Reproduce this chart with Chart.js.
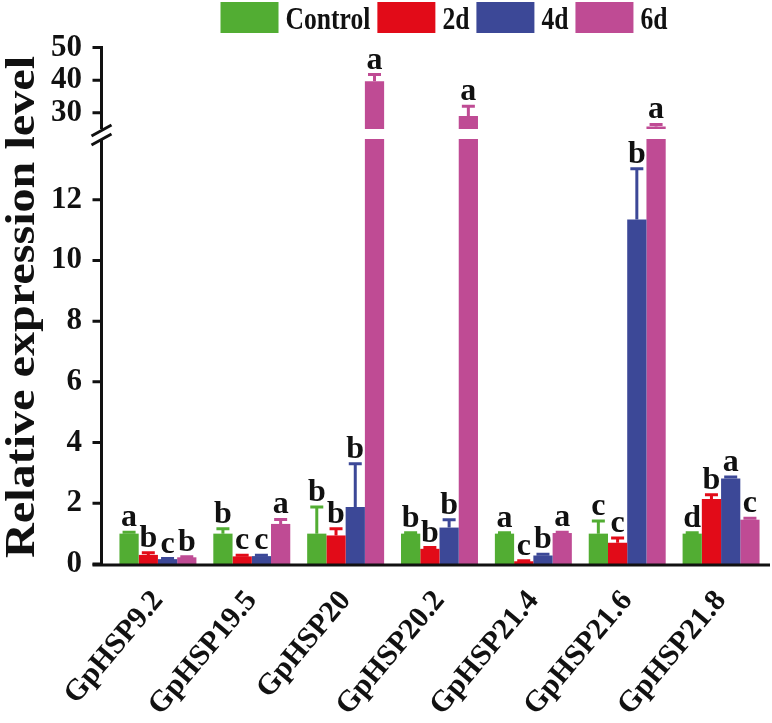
<!DOCTYPE html>
<html>
<head>
<meta charset="utf-8">
<script src="https://cdn.jsdelivr.net/npm/chart.js@4.4.1/dist/chart.umd.min.js"></script>
<style>
  html, body { margin: 0; padding: 0; background: #fff; }
  #wrap { position: relative; width: 772px; height: 723px; }
  #wrap canvas { position: absolute; left: 0; top: 0; }
</style>
</head>
<body>
<div id="wrap">
  <canvas id="lowChart" width="772" height="723"></canvas>
  <canvas id="highChart" width="772" height="723"></canvas>
</div>
<script>
'use strict';
/*----------------- data -----------------*/
const genes = ['GpHSP9.2', 'GpHSP19.5', 'GpHSP20', 'GpHSP20.2', 'GpHSP21.4', 'GpHSP21.6', 'GpHSP21.8'];
const seriesNames = ['Control', '2d', '4d', '6d'];

const controlValues = [1.00, 1.00, 1.00, 1.00, 1.00, 1.00, 1.00];
const day2Values = [0.30, 0.25, 0.94, 0.50, 0.09, 0.70, 2.14];
const day4Values = [0.16, 0.26, 1.88, 1.20, 0.28, 11.35, 2.82];
const day6Values = [0.22, 1.32, 39.7, 29.0, 1.02, 25.8, 1.46];

const controlErr = [0.05, 0.16, 0.88, 0.03, 0.03, 0.42, 0.03];
const day2Err = [0.07, 0.04, 0.22, 0.04, 0.02, 0.16, 0.14];
const day4Err = [0.02, 0.03, 1.42, 0.26, 0.04, 1.67, 0.05];
const day6Err = [0.02, 0.15, 2.0, 3.0, 0.03, 0.6, 0.05];

const controlLetters = ['a', 'b', 'b', 'b', 'a', 'c', 'd'];
const day2Letters = ['b', 'c', 'b', 'b', 'c', 'c', 'b'];
const day4Letters = ['c', 'c', 'b', 'b', 'b', 'b', 'a'];
const day6Letters = ['b', 'a', 'a', 'a', 'a', 'a', 'c'];

const lowTicks = [0, 2, 4, 6, 8, 10, 12];
const highTicks = [30, 40, 50];
const lowRange = [0, 14];
const highRange = [25, 50];
const yTitle = 'Relative expression level';
/*----------------------------------------*/

const colors = ['#52ad33', '#e20b18', '#3c4897', '#bf4b94'];
const allValues = [controlValues, day2Values, day4Values, day6Values];
const allErr = [controlErr, day2Err, day4Err, day6Err];
const allLetters = [controlLetters, day2Letters, day4Letters, day6Letters];
const serif = '"Liberation Serif", "Times New Roman", serif';
const axisGap = 9.5; // y axis line sits a bit left of the first bar
const tickLen = 9;

function makeDatasets() {
  let sets = [];
  for (let i = 0; i < seriesNames.length; i++) {
    sets.push({
      label: seriesNames[i],
      data: allValues[i],
      backgroundColor: colors[i],
      borderWidth: 0,
      categoryPercentage: 0.82,
      barPercentage: 1.0
    });
  }
  return sets;
}

// error bars + significance letters, only for bars whose top is inside this panel
function drawErrorsAndLetters(chart, ctx) {
  const yScale = chart.scales.y;
  for (let i = 0; i < seriesNames.length; i++) {
    const meta = chart.getDatasetMeta(i);
    for (let j = 0; j < genes.length; j++) {
      const v = allValues[i][j];
      if (v > yScale.max || v < yScale.min) continue;
      const bar = meta.data[j];
      const yTop = yScale.getPixelForValue(v);
      const yCap = yScale.getPixelForValue(v + allErr[i][j]);
      ctx.strokeStyle = colors[i];
      ctx.lineWidth = 3;
      ctx.beginPath();
      ctx.moveTo(bar.x, yTop);
      ctx.lineTo(bar.x, yCap);
      ctx.moveTo(bar.x - 6.5, yCap);
      ctx.lineTo(bar.x + 6.5, yCap);
      ctx.stroke();
      ctx.fillStyle = '#111';
      ctx.font = 'bold 32px ' + serif;
      ctx.textAlign = 'center';
      ctx.textBaseline = 'alphabetic';
      ctx.fillText(allLetters[i][j], bar.x, yCap - 6);
    }
  }
}

function drawYAxis(ctx, chart, ticks, yFrom, yTo) {
  const area = chart.chartArea;
  const yScale = chart.scales.y;
  const ax = area.left - axisGap;
  ctx.strokeStyle = '#111';
  ctx.lineWidth = 3;
  ctx.beginPath();
  ctx.moveTo(ax, yFrom);
  ctx.lineTo(ax, yTo);
  for (let k = 0; k < ticks.length; k++) {
    const py = yScale.getPixelForValue(ticks[k]);
    ctx.moveTo(ax - tickLen, py);
    ctx.lineTo(ax, py);
  }
  ctx.stroke();
  return ax;
}

const lowPlugin = {
  id: 'lowPanel',
  afterDatasetsDraw(chart) {
    const ctx = chart.ctx;
    const area = chart.chartArea;
    ctx.save();
    const ax = drawYAxis(ctx, chart, lowTicks, area.top + 1, area.bottom);
    // x axis line
    ctx.beginPath();
    ctx.moveTo(ax - tickLen, area.bottom + 1);
    ctx.lineTo(area.right + 2, area.bottom + 1);
    ctx.stroke();
    // break marks
    const breaks = [area.top - 8.5, area.top + 0.5];
    ctx.beginPath();
    for (let b = 0; b < breaks.length; b++) {
      ctx.moveTo(ax - 10, breaks[b] + 5.5);
      ctx.lineTo(ax + 10, breaks[b] - 5.5);
    }
    ctx.stroke();
    drawErrorsAndLetters(chart, ctx);
    // y title
    ctx.translate(34, 307);
    ctx.rotate(-Math.PI / 2);
    ctx.scale(1.12, 1);
    ctx.fillStyle = '#111';
    ctx.font = 'bold 43px ' + serif;
    ctx.textAlign = 'center';
    ctx.textBaseline = 'alphabetic';
    ctx.fillText(yTitle, 0, 0);
    ctx.restore();
  }
};

const highPlugin = {
  id: 'highPanel',
  afterDatasetsDraw(chart) {
    const ctx = chart.ctx;
    const area = chart.chartArea;
    ctx.save();
    drawYAxis(ctx, chart, highTicks, area.top - 1.5, area.bottom);
    drawErrorsAndLetters(chart, ctx);
    // legend
    ctx.font = 'bold 32px ' + serif;
    const squeeze = 0.8;
    const boxW = 58, boxH = 31, gap = 7;
    let total = 0;
    for (let i = 0; i < seriesNames.length; i++) {
      total += boxW + gap + ctx.measureText(seriesNames[i]).width * squeeze + gap;
    }
    let x = (area.left + area.right) / 2 + 8 - total / 2;
    for (let i = 0; i < seriesNames.length; i++) {
      ctx.fillStyle = colors[i];
      ctx.fillRect(x, 2, boxW, boxH);
      x += boxW + gap;
      const w = ctx.measureText(seriesNames[i]).width * squeeze;
      ctx.save();
      ctx.translate(x, 29);
      ctx.scale(squeeze, 1);
      ctx.fillStyle = '#111';
      ctx.textAlign = 'left';
      ctx.textBaseline = 'alphabetic';
      ctx.fillText(seriesNames[i], 0, 0);
      ctx.restore();
      x += w + gap;
    }
    ctx.restore();
  }
};

function baseOptions(range, ticks, padTop, padBottom, showX) {
  return {
    responsive: false,
    animation: false,
    events: [],
    layout: { padding: { left: 0, right: 4, top: padTop, bottom: padBottom } },
    plugins: { legend: { display: false }, tooltip: { enabled: false } },
    scales: {
      x: {
        display: showX,
        grid: { display: false, drawTicks: false },
        border: { display: false },
        ticks: {
          color: '#111',
          font: { family: serif, size: 30, weight: 'bold' },
          minRotation: 50,
          maxRotation: 50,
          padding: 20
        },
        afterFit(scale) { scale.height = showX ? 159 : 0; }
      },
      y: {
        min: range[0],
        max: range[1],
        grid: { display: false, drawTicks: false },
        border: { display: false },
        afterBuildTicks(scale) { scale.ticks = ticks.map(v => ({ value: v })); },
        ticks: {
          color: '#111',
          font: { family: serif, size: 31, weight: 'bold' },
          padding: 29
        },
        afterFit(scale) { scale.width = 111; }
      }
    }
  };
}

new Chart(document.getElementById('lowChart').getContext('2d'), {
  type: 'bar',
  data: { labels: genes, datasets: makeDatasets() },
  options: baseOptions(lowRange, lowTicks, 139, 0, true),
  plugins: [lowPlugin]
});

new Chart(document.getElementById('highChart').getContext('2d'), {
  type: 'bar',
  data: { labels: genes, datasets: makeDatasets() },
  options: baseOptions(highRange, highTicks, 29, 594, false),
  plugins: [highPlugin]
});
</script>
</body>
</html>
